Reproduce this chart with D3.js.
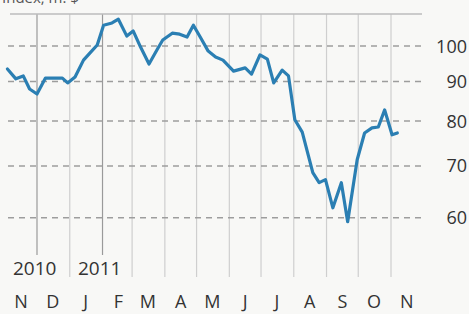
<!DOCTYPE html>
<html>
<head>
<meta charset="utf-8">
<script src="https://cdn.jsdelivr.net/npm/d3@7"></script>
<style>
  body { margin: 0; background: #f8f8f6; }
  svg { display: block; }
  text { font-family: "Open Sans", sans-serif; fill: #333; }
</style>
</head>
<body>
<div class="chart"></div>
<script>
var svgWidth = 469;
var svgHeight = 314;

// weekly readings
var dates = ["2010-11-03", "2010-11-11", "2010-11-18", "2010-11-24", "2010-12-01", "2010-12-09",
  "2010-12-16", "2010-12-25", "2010-12-30", "2011-01-06", "2011-01-14", "2011-01-20", "2011-01-27",
  "2011-02-02", "2011-02-10", "2011-02-16", "2011-02-24", "2011-03-02", "2011-03-09", "2011-03-17",
  "2011-03-25", "2011-03-30", "2011-04-08", "2011-04-15", "2011-04-22", "2011-04-28", "2011-05-05",
  "2011-05-12", "2011-05-19", "2011-05-26", "2011-06-05", "2011-06-16", "2011-06-22", "2011-06-30",
  "2011-07-07", "2011-07-13", "2011-07-21", "2011-07-27", "2011-08-02", "2011-08-09", "2011-08-19",
  "2011-08-25", "2011-08-31", "2011-09-07", "2011-09-15", "2011-09-21", "2011-09-30", "2011-10-07",
  "2011-10-14", "2011-10-20", "2011-10-26", "2011-11-02", "2011-11-07"];
var values = [93.4, 90.7, 91.5, 88.0, 86.7, 90.9,
  90.9, 90.9, 89.6, 91.2, 95.9, 97.9, 100.3,
  106.4, 107.1, 108.3, 103.0, 104.6, 99.7, 94.8,
  99.1, 101.8, 103.9, 103.6, 102.7, 106.4, 102.4,
  98.5, 96.8, 95.9, 92.8, 93.7, 92.0, 97.4,
  96.2, 89.6, 93.1, 91.5, 80.3, 77.4, 68.6,
  66.6, 67.2, 61.8, 66.6, 59.3, 71.3, 77.2,
  78.4, 78.6, 82.7, 76.8, 77.2];

var yTicks = [60, 70, 80, 90, 100];
var monthLabels = ["N", "D", "J", "F", "M", "A", "M", "J", "J", "A", "S", "O", "N"];
var yearLabels = ["2010", "2011"];

var parseDate = d3.timeParse("%Y-%m-%d");
var data = dates.map(function(d, i) {
  return { date: parseDate(d), value: values[i] };
});

var start = new Date(2010, 10, 1);
var end = new Date(2011, 10, 1);

var xScale = d3.scaleTime().domain([start, end]).range([5.3, 391]);
var yScale = d3.scaleLog().domain([50, 110]).range([279, 14]);

var svg = d3.select(".chart")
  .append("svg")
  .attr("width", svgWidth)
  .attr("height", svgHeight);

// heading, mostly cut off at the top as in the picture
svg.append("text")
  .attr("x", 2)
  .attr("y", 3)
  .style("font-size", "15px")
  .style("fill", "#555")
  .text("Index, m. $");

// month gridlines, the two darker ones stop above the year labels
var months = d3.timeMonth.range(d3.timeMonth.offset(start, 1), d3.timeDay.offset(end, 1));
svg.append("g")
  .selectAll("line")
  .data(months)
  .enter()
  .append("line")
  .attr("x1", function(d) { return xScale(d); })
  .attr("x2", function(d) { return xScale(d); })
  .attr("y1", yScale(110))
  .attr("y2", function(d, i) { return (i === 0 || i === 2) ? 255 : 277; })
  .attr("stroke", function(d, i) { return (i === 0 || i === 2) ? "#9a9a9a" : "#cfcfcf"; })
  .attr("stroke-width", 1.2);

// top rule
svg.append("line")
  .attr("x1", 10)
  .attr("x2", 422)
  .attr("y1", yScale(110))
  .attr("y2", yScale(110))
  .attr("stroke", "#bdbdbd")
  .attr("stroke-width", 1.5);

// dashed value gridlines
svg.append("g")
  .selectAll("line")
  .data(yTicks)
  .enter()
  .append("line")
  .attr("x1", 8)
  .attr("x2", 422)
  .attr("y1", function(d) { return yScale(d); })
  .attr("y2", function(d) { return yScale(d); })
  .attr("stroke", "#9d9d9d")
  .attr("stroke-width", 1.5)
  .attr("stroke-dasharray", "6,5");

// right tick labels
svg.append("g")
  .selectAll("text")
  .data(yTicks)
  .enter()
  .append("text")
  .attr("x", 467)
  .attr("y", function(d) { return yScale(d); })
  .attr("dy", "0.36em")
  .attr("text-anchor", "end")
  .style("font-size", "18px")
  .text(function(d) { return d; });

// line
var line = d3.line()
  .x(function(d) { return xScale(d.date); })
  .y(function(d) { return yScale(d.value); });

svg.append("path")
  .datum(data)
  .attr("d", line)
  .attr("fill", "none")
  .attr("stroke", "#2b7fb3")
  .attr("stroke-width", 3.2)
  .attr("stroke-linejoin", "round")
  .attr("stroke-linecap", "round");

// month initials, centred in each month
var mids = d3.timeMonth.range(start, d3.timeDay.offset(end, 1)).map(function(d) {
  return d3.timeDay.offset(d, 15);
});
svg.append("g")
  .selectAll("text")
  .data(monthLabels)
  .enter()
  .append("text")
  .attr("x", function(d, i) { return xScale(mids[i]); })
  .attr("y", 308)
  .attr("text-anchor", "middle")
  .style("font-size", "18px")
  .text(function(d) { return d; });

// years
svg.append("g")
  .selectAll("text")
  .data(yearLabels)
  .enter()
  .append("text")
  .attr("x", function(d, i) { return i === 0 ? 13 : 78; })
  .attr("y", 275)
  .style("font-size", "19px")
  .text(function(d) { return d; });
</script>
</body>
</html>
